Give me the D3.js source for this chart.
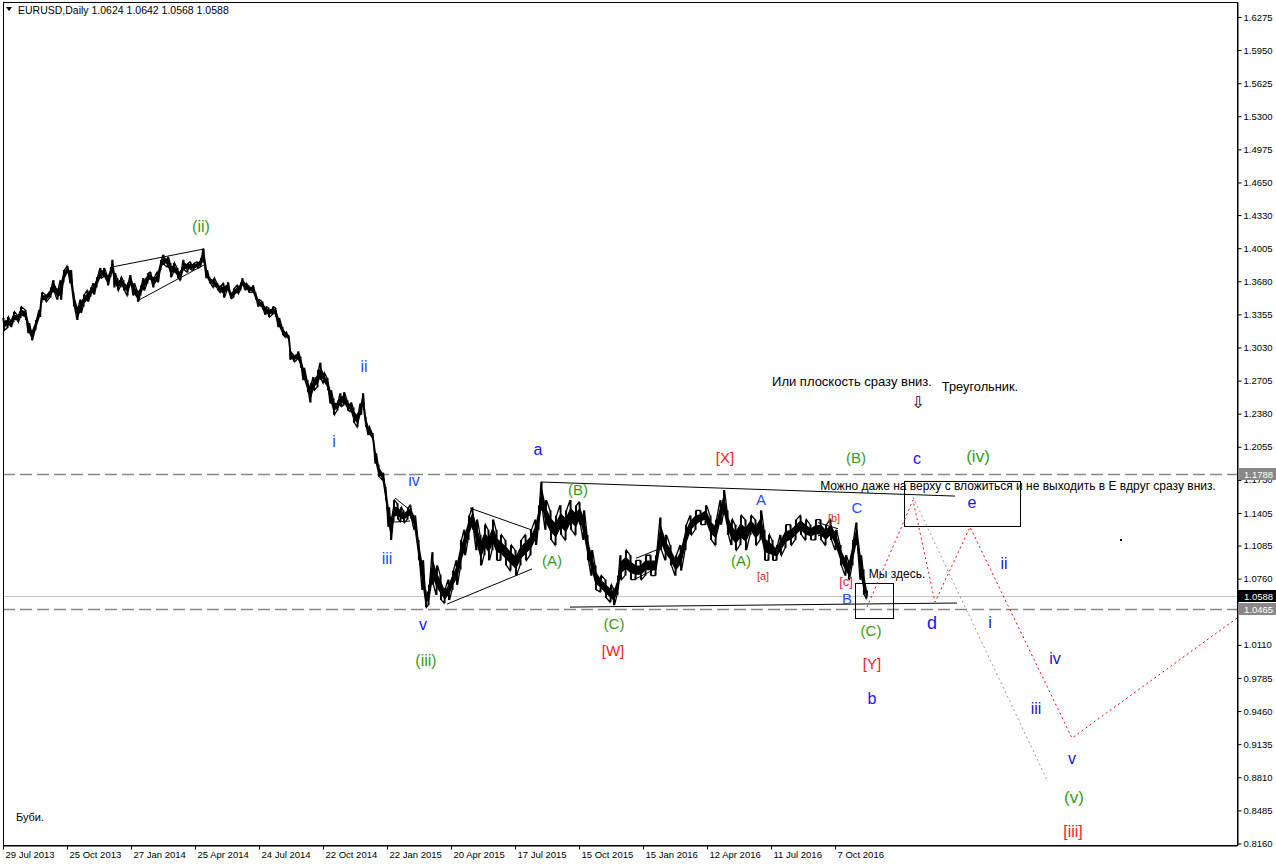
<!DOCTYPE html>
<html><head><meta charset="utf-8">
<script src="https://cdn.jsdelivr.net/npm/d3@7"></script>
<style>body{margin:0;background:#fff}svg{display:block}</style>
</head><body><svg id="c" width="1276" height="866"></svg>
<script>
// ---- data (bar index = trading days since 29 Jul 2013) ----
const bars=[0,4,7,10,14,17,22,25,28,32,36,38,42,47,50,54,57,60,64,67,70,74,77,80,84,87,90,93,97,100,104,107,109,111,114,117,120,124,127,130,134,137,140,144,147,150,154,157,160,164,167,170,174,177,180,184,187,190,194,197,200,203,206,210,214,217,220,224,227,230,234,237,239,242,245,249,252,255,259,262,265,269,272,275,279,282,285,287,290,294,297,300,304,307,310,314,317,320,324,327,330,334,337,340,344,347,350,354,357,359,362,365,369,372,375,379,382,385,387,390,394,397,400,404,407,411,415,419,422,425,429,433,437,441,445,449,453,457,461,465,469,473,477,481,485,489,493,497,502,507,512,517,522,527,532,535,538,542,547,552,557,562,567,572,576,580,584,588,592,597,602,607,610,614,617,622,627,632,637,642,647,652,657,662,667,672,677,682,687,692,697,702,707,712,717,720,724,728,732,737,742,747,752,757,761,765,769,773,777,782,787,792,797,802,807,812,817,822,827,832,837,842,845,849,853,857,860,863];
const highs=[1.332,1.333,1.330,1.338,1.335,1.343,1.340,1.327,1.320,1.330,
1.340,1.357,1.355,1.362,1.369,1.361,1.369,1.379,1.383,1.379,
1.357,1.343,1.350,1.355,1.359,1.362,1.366,1.372,1.381,1.381,
1.374,1.382,1.389,1.376,1.371,1.372,1.369,1.367,1.374,1.366,
1.359,1.364,1.371,1.376,1.377,1.372,1.377,1.389,1.394,1.392,
1.386,1.386,1.381,1.379,1.389,1.386,1.387,1.386,1.387,1.391,
1.400,1.379,1.372,1.371,1.366,1.364,1.366,1.367,1.357,1.361,
1.364,1.367,1.371,1.366,1.364,1.364,1.357,1.350,1.348,1.343,
1.342,1.343,1.342,1.332,1.323,1.318,1.315,1.298,1.296,1.299,
1.294,1.283,1.271,1.268,1.274,1.281,1.288,1.278,1.273,1.261,
1.253,1.251,1.258,1.259,1.251,1.249,1.244,1.239,1.248,1.258,
1.235,1.225,1.219,1.199,1.188,1.180,1.166,1.146,1.137,1.153,
1.150,1.146,1.143,1.146,1.148,1.138,1.114,1.094,1.065,1.070,
1.102,1.089,1.080,1.067,1.075,1.084,1.094,1.114,1.124,1.138,
1.146,1.134,1.119,1.129,1.124,1.134,1.124,1.119,1.114,1.109,
1.104,1.114,1.119,1.124,1.134,1.148,1.171,1.153,1.143,1.138,
1.148,1.143,1.153,1.148,1.151,1.143,1.119,1.104,1.089,1.079,
1.075,1.070,1.067,1.079,1.099,1.104,1.099,1.094,1.094,1.099,
1.099,1.099,1.136,1.119,1.109,1.099,1.109,1.129,1.138,1.143,
1.143,1.148,1.138,1.134,1.153,1.163,1.143,1.134,1.129,1.138,
1.134,1.138,1.134,1.143,1.124,1.119,1.114,1.109,1.119,1.129,
1.129,1.134,1.138,1.134,1.129,1.134,1.134,1.129,1.134,1.124,
1.109,1.099,1.094,1.114,1.131,1.099,1.085,1.0642];
const lows=[1.320,1.322,1.323,1.328,1.328,1.332,1.330,1.317,1.310,1.320,
1.333,1.347,1.348,1.352,1.357,1.350,1.350,1.367,1.376,1.366,
1.343,1.330,1.337,1.343,1.348,1.353,1.355,1.362,1.371,1.372,
1.364,1.372,1.376,1.362,1.359,1.362,1.359,1.354,1.364,1.354,
1.348,1.354,1.359,1.366,1.369,1.362,1.367,1.379,1.384,1.382,
1.372,1.376,1.371,1.369,1.379,1.377,1.379,1.379,1.381,1.382,
1.386,1.371,1.366,1.362,1.359,1.357,1.352,1.359,1.351,1.352,
1.356,1.359,1.364,1.359,1.357,1.357,1.350,1.343,1.340,1.335,
1.333,1.335,1.333,1.323,1.315,1.313,1.310,1.291,1.289,1.291,
1.283,1.271,1.259,1.249,1.261,1.264,1.271,1.268,1.261,1.248,
1.237,1.241,1.245,1.246,1.241,1.240,1.229,1.225,1.237,1.246,
1.225,1.217,1.212,1.189,1.176,1.173,1.153,1.127,1.114,1.131,
1.134,1.132,1.131,1.134,1.135,1.124,1.094,1.065,1.048,1.050,
1.070,1.060,1.055,1.052,1.055,1.065,1.070,1.085,1.099,1.114,
1.124,1.104,1.089,1.099,1.094,1.104,1.094,1.094,1.089,1.084,
1.079,1.089,1.094,1.099,1.109,1.124,1.143,1.124,1.114,1.109,
1.119,1.114,1.124,1.119,1.129,1.114,1.094,1.079,1.065,1.063,
1.057,1.053,1.050,1.060,1.075,1.079,1.075,1.075,1.075,1.079,
1.079,1.079,1.104,1.094,1.089,1.079,1.084,1.104,1.119,1.124,
1.129,1.129,1.114,1.109,1.129,1.138,1.119,1.109,1.104,1.109,
1.104,1.119,1.109,1.114,1.094,1.094,1.094,1.094,1.099,1.106,
1.109,1.114,1.119,1.114,1.114,1.114,1.114,1.109,1.114,1.104,
1.089,1.079,1.075,1.089,1.109,1.075,1.060,1.0568];
const symbol="EURUSD,Daily";
const lastOHLC=[1.0624,1.0642,1.0568,1.0588];
const priceTicks=[1.6275,1.5950,1.5625,1.5300,1.4975,1.4650,1.4330,1.4005,1.3680,1.3355,1.3030,1.2705,1.2380,1.2055,1.1730,1.1405,1.1085,1.0760,1.0435,1.0110,0.9785,0.9460,0.9135,0.8810,0.8485,0.8160];
const dateTicks=[0,64,128,192,256,320,384,448,512,576,640,704,768,832];
const dateLabels=["29 Jul 2013","25 Oct 2013","27 Jan 2014","25 Apr 2014","24 Jul 2014","22 Oct 2014","22 Jan 2015","20 Apr 2015","17 Jul 2015","15 Oct 2015","15 Jan 2016","12 Apr 2016","11 Jul 2016","7 Oct 2016"];
const dashedLevels=[1.1788,1.0465];
const bidLevel=1.0588;
// trend lines: [bar1, price1, bar2, price2]
const trendLines=[[109,1.3820,201,1.3997],[134,1.3486,201,1.3840],
[392,1.1552,407,1.1434],[392,1.1316,407,1.1326],
[467,1.1453,529,1.1237],[444,1.0510,529,1.0855],
[633,1.0960,653,1.1040],[633,1.0760,653,1.0860],
[815,1.1310,835,1.1250],[815,1.1180,835,1.1230],
[538,1.1709,952,1.1571],[567,1.0481,954,1.0521]];
const boxes=[[852,1.0717,890,1.0373],[901,1.1719,1017,1.1277]];
const redPathBars=[864,910,932,967,1069,1234];
const redPathPrices=[1.0481,1.1532,1.0530,1.1267,0.9195,1.0373];
const grayPathBars=[910,1045];
const grayPathPrices=[1.1562,0.8763];
// wave labels: text, bar, price, colour key, size
const waveLabels=[
["(ii)",198,1.4213,"g",16],["ii",361,1.2848,"b",16],["i",331,1.2102,"b",16],["iv",411,1.1719,"b",16],
["iii",384,1.0962,"b",16],["v",420,1.0314,"b2",16],["(iii)",423,0.9961,"g",16],
["a",535,1.2033,"b2",16],["(B)",575,1.1640,"g",15],["(A)",549,1.0943,"g",15],["(C)",611,1.0324,"g",15],
["[W]",610,1.0059,"r",15],["[X]",722,1.1954,"r",15],["A",758,1.1542,"b",15],["(A)",738,1.0943,"g",15],
["[a]",760,1.0786,"r2",11],["[b]",831,1.1355,"r2",11],["[c]",843,1.0737,"r3",13],["B",844,1.0570,"b",15],
["C",854,1.1463,"b",15],["(B)",853,1.1954,"g",15],["c",914,1.1935,"b2",16],["(iv)",975,1.1964,"g",17],
["e",969,1.1512,"b2",16],["d",929,1.0324,"b2",18],["(C)",868,1.0255,"g",15],["[Y]",869,0.9931,"r",15],
["b",869,0.9588,"b2",16],["ii",1001,1.0913,"b3",16],["i",987,1.0334,"b3",16],["iii",1033,0.9489,"b3",16],
["iv",1052,0.9980,"b3",16],["v",1069,0.8998,"b3",16],["(v)",1071,0.8615,"g",17],["[iii]",1070,0.8282,"r",16]];
const notes=[
["Мы здесь.",894,1.0805,12],["Или плоскость сразу вниз.",849,1.2691,13],["Треугольник.",977,1.2642,12.8],
["⇩",915,1.2494,16],["Можно даже на верху с вложиться и не выходить в Е вдруг сразу вниз.",1015,1.1669,12],
["Буби.",27,0.8419,11]];
const strayPoint=[1117,1.1149];

// ---- drawing ----
const colors={g:"#389a14",b:"#2a4bff",b2:"#1414ff",b3:"#1818c8",r:"#ff1a1a",r2:"#d42a10",r3:"#ee1450"};
const svg=d3.select("#c");
const L=3,R=1237,T=2,B=845;
const x=d3.scaleLinear().domain([0,1234]).range([L,R]);
const y=d3.scaleLinear().domain([0.8145,1.6422]).range([B,T]);
const font="'Liberation Sans',Arial,sans-serif";

svg.append("rect").attr("width",1276).attr("height",866).attr("fill","#fff");

// levels
svg.selectAll(".lvl").data(dashedLevels).enter().append("line")
 .attr("x1",L).attr("x2",R).attr("y1",d=>Math.round(y(d))+0.5).attr("y2",d=>Math.round(y(d))+0.5)
 .attr("stroke","#888").attr("stroke-width",1.3).attr("stroke-dasharray","12,5");
svg.append("line").attr("x1",L).attr("x2",R).attr("y1",Math.round(y(bidLevel))+0.5).attr("y2",Math.round(y(bidLevel))+0.5)
 .attr("stroke","#c4c4c4").attr("stroke-width",1);

// price series: solid core + zigzag through each sample's high and low (OHLC-like texture)
const n=Math.min(bars.length,highs.length,lows.length);
const pts=d3.range(n).map(i=>({b:bars[i],h:highs[i],l:lows[i]}));
svg.append("path").datum(pts)
 .attr("d",d3.area().x(d=>x(d.b)+0.75).y0(d=>y(d.l+(d.h-d.l)*0.3)).y1(d=>y(d.h-(d.h-d.l)*0.3)))
 .attr("fill","#000").attr("stroke","#000").attr("stroke-width",1.5);
const zz=[];
for(let i=0;i<n;i++){
  if(i%2===0){zz.push([x(bars[i]),y(highs[i])]);zz.push([x(bars[i])+1.5,y(lows[i])]);}
  else{zz.push([x(bars[i]),y(lows[i])]);zz.push([x(bars[i])+1.5,y(highs[i])]);}
}
svg.append("path").attr("d",d3.line()(zz)).attr("fill","none").attr("stroke","#000").attr("stroke-width",1.3);
svg.append("g").selectAll("line").data(d3.range(n)).enter().append("line")
 .attr("x1",i=>x(bars[i])+0.75).attr("x2",i=>x(bars[i])+0.75).attr("y1",i=>y(highs[i])).attr("y2",i=>y(lows[i]))
 .attr("stroke","#000").attr("stroke-width",1.6);

// trend lines
svg.append("g").selectAll("line").data(trendLines).enter().append("line")
 .attr("x1",d=>x(d[0])).attr("y1",d=>y(d[1])).attr("x2",d=>x(d[2])).attr("y2",d=>y(d[3]))
 .attr("stroke","#000").attr("stroke-width",1);
svg.append("g").selectAll("rect").data(boxes).enter().append("rect")
 .attr("x",d=>Math.round(x(d[0]))+0.5).attr("y",d=>Math.round(y(d[1]))+0.5)
 .attr("width",d=>Math.round(x(d[2])-x(d[0]))).attr("height",d=>Math.round(y(d[3])-y(d[1])))
 .attr("fill","none").attr("stroke","#000").attr("stroke-width",1);

// projection paths
const ln=d3.line().x(d=>x(d[0])).y(d=>y(d[1]));
svg.append("path").datum(d3.zip(grayPathBars,grayPathPrices)).attr("d",ln)
 .attr("fill","none").attr("stroke","#999").attr("stroke-width",1).attr("stroke-dasharray","2,3");
svg.append("path").datum(d3.zip(redPathBars,redPathPrices)).attr("d",ln)
 .attr("fill","none").attr("stroke","#ff0000").attr("stroke-width",1).attr("stroke-dasharray","2,3");
svg.append("rect").attr("x",x(strayPoint[0])).attr("y",y(strayPoint[1])).attr("width",2).attr("height",2).attr("fill","#000");

// labels
svg.append("g").selectAll("text").data(waveLabels).enter().append("text")
 .attr("x",d=>x(d[1])).attr("y",d=>y(d[2])).attr("text-anchor","middle").attr("dominant-baseline","central")
 .attr("font-family","Arial,'Liberation Sans',sans-serif").attr("font-size",d=>d[4]).attr("fill",d=>colors[d[3]]).text(d=>d[0]);
svg.append("g").selectAll("text").data(notes).enter().append("text")
 .attr("x",d=>x(d[1])).attr("y",d=>y(d[2])).attr("text-anchor","middle").attr("dominant-baseline","central")
 .attr("font-family",d=>d[0]==="⇩"?"'DejaVu Sans',sans-serif":font).attr("font-size",d=>d[3]).attr("fill","#000").text(d=>d[0]);

// axes
const ya=d3.axisRight(y).tickValues(priceTicks).tickFormat(d3.format(".4f")).tickSize(4).tickSizeOuter(0);
const gy=svg.append("g").attr("transform",`translate(${R+0.5},0)`).call(ya);
gy.selectAll("text").attr("font-family",font).attr("font-size",9.5).attr("fill","#000").attr("x",6);
gy.selectAll("line,path").attr("stroke","#000");
const xa=d3.axisBottom(x).tickValues(dateTicks).tickFormat((d,i)=>dateLabels[i]).tickSize(4).tickSizeOuter(0);
const gx=svg.append("g").attr("transform",`translate(0,${B+0.5})`).call(xa);
gx.selectAll("text").attr("font-family",font).attr("font-size",9.5).attr("fill","#000")
 .attr("text-anchor","start").attr("dx",2).attr("y",6);
gx.selectAll("line,path").attr("stroke","#000");
// frame
svg.append("rect").attr("x",L+0.5).attr("y",T+0.5).attr("width",R-L).attr("height",B-T)
 .attr("fill","none").attr("stroke","#000").attr("stroke-width",1);

// price boxes
const pbox=[[dashedLevels[0],"#888"],[bidLevel,"#000"],[dashedLevels[1],"#888"]];
const pb=svg.append("g").selectAll("g").data(pbox).enter().append("g")
 .attr("transform",d=>`translate(${R+1},${Math.round(y(d[0]))})`);
pb.append("rect").attr("x",0).attr("y",-6).attr("width",39).attr("height",12).attr("fill",d=>d[1]);
pb.append("text").attr("x",6).attr("y",0).attr("dominant-baseline","central").attr("font-family",font)
 .attr("font-size",9.5).attr("fill","#fff").text(d=>d[0].toFixed(4));

// header
svg.append("path").attr("d","M6,7 L12,7 L9,11 Z").attr("fill","#000");
svg.append("text").attr("x",18).attr("y",10).attr("dominant-baseline","central").attr("font-family",font)
 .attr("font-size",10.5).attr("fill","#000")
 .text(symbol+"  "+lastOHLC.map(v=>v.toFixed(4)).join(" "));
</script></body></html>
